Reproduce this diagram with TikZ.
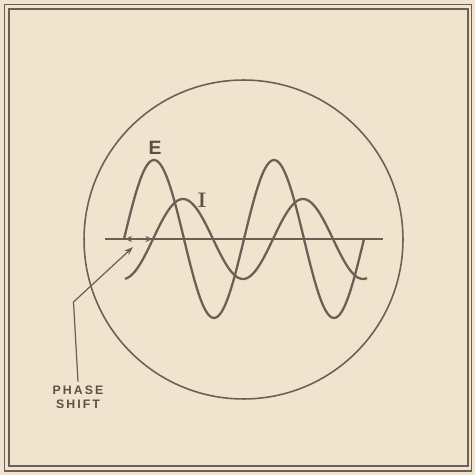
\documentclass[tikz,border=0pt]{standalone}
\usepackage{fontspec}
\setsansfont{Liberation Sans}
\usetikzlibrary{arrows.meta, positioning, calc}
\definecolor{paper}{RGB}{240,228,206}
\definecolor{ink}{RGB}{108,96,86}
\definecolor{letter}{RGB}{92,80,72}
\begin{document}
\begin{tikzpicture}[
  x=0.02cm, y=-0.02cm,
  frameline/.style={draw=ink, line width=1.1pt},
  wave/.style={draw=ink, line width=1.3pt},
  axisline/.style={draw=ink, line width=0.9pt},
  screen/.style={circle, draw=ink, line width=0.9pt, minimum size=6.38cm, inner sep=0pt},
  label/.style={text=letter, inner sep=0pt},
  pointer/.style={draw=ink, line width=0.7pt, -{Stealth[length=5pt, width=3.5pt]}}
  ]
  % paper and page size
  \fill[paper] (0,0) rectangle (475,475);
  \useasboundingbox (0,0) rectangle (475,475);

  % double frame
  \draw[frameline] (4.5,4.5) rectangle (471.5,471);
  \draw[draw=ink, line width=0.6pt] (9,9) rectangle (468,466);

  % scope face
  \node[screen] (face) at (243.5,239.5) {};

  % time axis
  \coordinate (axl) at (105,239);
  \coordinate (axr) at (383,239);
  \draw[axisline] (axl) -- (axr);

  % E (voltage) and I (current), a quarter period apart
  \draw[wave] plot[domain=124:364, samples=120, smooth] (\x, {239-79*sin(3*(\x-124))});
  \draw[wave] plot[domain=125:367, samples=120, smooth] (\x, {239-40*sin(3*(\x-153))});

  \node[label, font=\sffamily\bfseries\fontsize{11}{12}\selectfont] (elab) at (155,148) {E};
  \node[label, font=\rmfamily\bfseries\fontsize{12}{13}\selectfont] (ilab) at (202,200) {I};

  % phase shift marker
  \coordinate (ezero) at (125,239);
  \coordinate (izero) at (152.5,239);
  \draw[draw=ink, line width=0.7pt, {Stealth[length=4pt, width=3.5pt]}-{Stealth[length=4pt, width=3.5pt]}] (ezero) -- (izero);

  \node[label, align=center, font=\sffamily\bfseries\fontsize{7}{8.2}\selectfont] (phase) at (78,397) {P\,H\,A\,S\,E\\S\,H\,I\,F\,T};
  \coordinate (bend) at (73.5,302);
  \coordinate (tip) at (133,247);
  \draw[pointer] ([yshift=2pt]phase.north) -- (bend) -- (tip);

\end{tikzpicture}
\end{document}
